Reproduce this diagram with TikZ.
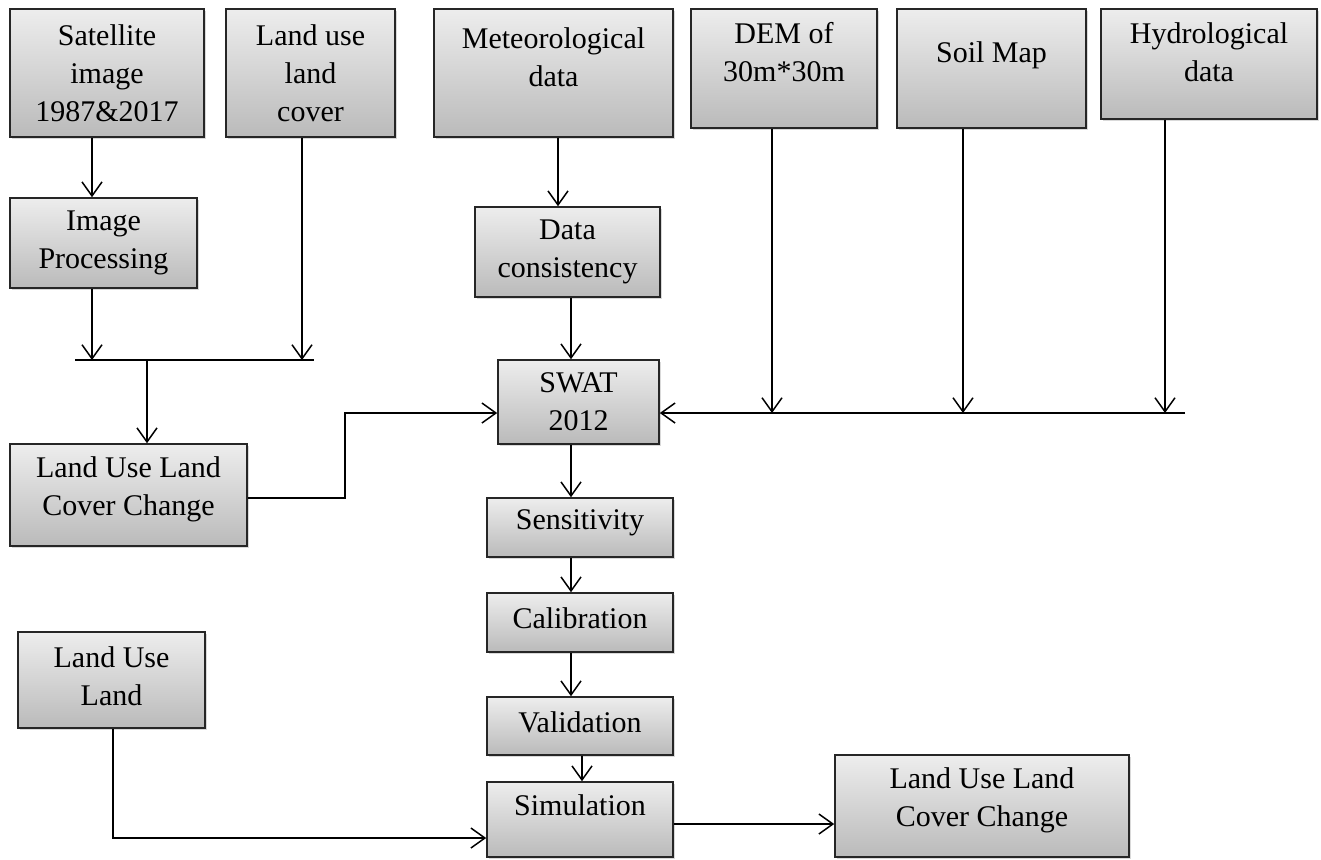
\documentclass[tikz,border=0pt]{standalone}
\usepackage{fontspec}
\setmainfont{Liberation Serif}
\usetikzlibrary{arrows.meta,shadows}
\begin{document}
\begin{tikzpicture}[x=0.5pt,y=-0.5pt,
    box/.style={draw=black!85, line width=0.8pt, top color=black!7, bottom color=black!27,
      drop shadow={shadow xshift=1.2pt, shadow yshift=-1.2pt, opacity=0.3}, inner sep=0pt},
    txt/.style={align=center, font=\fontsize{15}{19}\selectfont, text=black},
    arr/.style={-{Straight Barb[length=7pt,width=10pt]}, line width=0.75pt},
    wire/.style={line width=0.75pt}]
  \useasboundingbox (0,0) rectangle (1321,859);

  % Input boxes along the top
  \node[box, minimum width=97pt, minimum height=64pt,
    label={[txt]center:Satellite\\image\\1987\&2017}] (sat) at (107,73) {};
  \node[box, minimum width=84.5pt, minimum height=64pt,
    label={[txt]center:Land use\\land\\cover}] (luse) at (310.5,73) {};
  \node[box, minimum width=119.5pt, minimum height=64pt,
    label={[txt, yshift=8pt]center:Meteorological\\data}] (met) at (553.5,73) {};
  \node[box, minimum width=93pt, minimum height=59.5pt,
    label={[txt, yshift=8pt]center:DEM of\\30m*30m}] (dem) at (784,68.5) {};
  \node[box, minimum width=94.5pt, minimum height=59.5pt,
    label={[txt, yshift=6.75pt]center:Soil Map}] (soil) at (991.5,68.5) {};
  \node[box, minimum width=108pt, minimum height=55pt,
    label={[txt, yshift=6pt]center:Hydrological\\data}] (hyd) at (1209,64) {};

  % Processing boxes
  \node[box, minimum width=93.5pt, minimum height=45pt,
    label={[txt]center:Image\\Processing}] (img) at (103.5,243) {};
  \node[box, minimum width=92.5pt, minimum height=45pt,
    label={[txt]center:Data\\consistency}] (dcons) at (567.5,252) {};
  \node[box, minimum width=80.5pt, minimum height=42pt,
    label={[txt]center:SWAT\\2012}] (swat) at (578.5,402) {};
  \node[box, minimum width=118.5pt, minimum height=51pt,
    label={[txt, yshift=3pt]center:Land Use Land\\Cover Change}] (lulcA) at (128.5,495) {};
  \node[box, minimum width=93.5pt, minimum height=48pt,
    label={[txt, yshift=2pt]center:Land Use\\Land}] (lul) at (111.5,680) {};

  % Model chain
  \node[box, minimum width=93pt, minimum height=29.5pt,
    label={[txt, yshift=2.25pt]center:Sensitivity}] (sens) at (580,527.5) {};
  \node[box, minimum width=93pt, minimum height=29.5pt,
    label={[txt, yshift=2.25pt]center:Calibration}] (cal) at (580,622.5) {};
  \node[box, minimum width=93pt, minimum height=29pt,
    label={[txt, yshift=2pt]center:Validation}] (val) at (580,726) {};
  \node[box, minimum width=93pt, minimum height=37.5pt,
    label={[txt, yshift=7.25pt]center:Simulation}] (sim) at (580,819.5) {};
  \node[box, minimum width=147pt, minimum height=51pt,
    label={[txt, yshift=3pt]center:Land Use Land\\Cover Change}] (lulcB) at (982,806) {};

  % Left branch: image work joins land cover
  \coordinate (barL) at (75,360);
  \coordinate (barR) at (314,360);
  \coordinate (barM) at (147,360);
  \coordinate (imgOut) at ([xshift=-5.75pt]img.south);
  \coordinate (luseOut) at ([xshift=-4.25pt]luse.south);
  \draw[arr] ([xshift=-7.5pt]sat.south) -- ([xshift=-5.75pt]img.north);
  \draw[arr] (imgOut) -- (imgOut |- barL);
  \draw[arr] (luseOut) -- (luseOut |- barR);
  \draw[wire] (barL) -- (barR);
  \draw[arr] (barM) -- ([xshift=9.25pt]lulcA.north);

  % Into SWAT from the left
  \coordinate (swL) at ([yshift=-5.5pt]swat.west);
  \coordinate (kink) at (345,413);
  \draw[arr] ([yshift=-1.5pt]lulcA.east) -| (kink) -- (swL);

  % Climate data
  \draw[arr] ([xshift=2.25pt]met.south) -- ([xshift=-4.75pt]dcons.north);
  \draw[arr] ([xshift=1.75pt]dcons.south) -- ([xshift=-3.75pt]swat.north);

  % Into SWAT from the right
  \coordinate (swR) at ([yshift=-5.5pt]swat.east);
  \coordinate (busEnd) at (1185,413);
  \coordinate (demOut) at ([xshift=-6pt]dem.south);
  \coordinate (soilOut) at ([xshift=-14.25pt]soil.south);
  \coordinate (hydOut) at ([xshift=-22pt]hyd.south);
  \draw[arr] (busEnd) -- (swR);
  \draw[arr] (demOut) -- (demOut |- swR);
  \draw[arr] (soilOut) -- (soilOut |- swR);
  \draw[arr] (hydOut) -- (hydOut |- swR);

  % Down the model chain
  \draw[arr] ([xshift=-3.75pt]swat.south) -- ([xshift=-4.5pt]sens.north);
  \draw[arr] ([xshift=-4.5pt]sens.south) -- ([xshift=-4.5pt]cal.north);
  \draw[arr] ([xshift=-4.5pt]cal.south) -- ([xshift=-4.5pt]val.north);
  \draw[arr] ([xshift=1pt]val.south) -- ([xshift=1pt]sim.north);

  % Land use into simulation, and the result
  \coordinate (simIn) at ([yshift=-9.25pt]sim.west);
  \coordinate (simOut) at ([yshift=-2.25pt]sim.east);
  \draw[arr] ([xshift=0.75pt]lul.south) |- (simIn);
  \draw[arr] (simOut) -- (simOut -| lulcB.west);
\end{tikzpicture}
\end{document}
